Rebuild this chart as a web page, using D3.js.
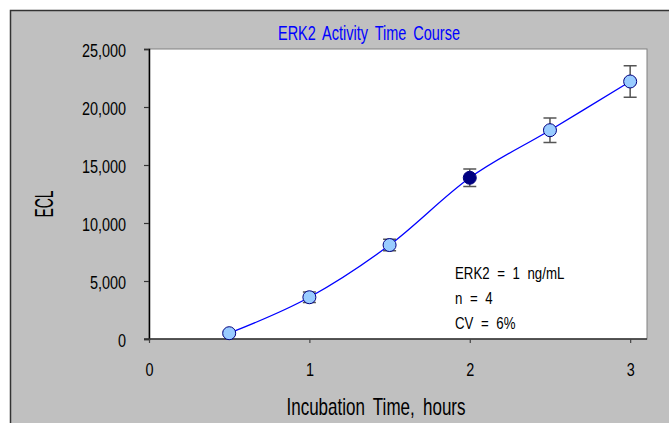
<!DOCTYPE html>
<html>
<head>
<meta charset="utf-8">
<script src="https://cdn.jsdelivr.net/npm/d3@7"></script>
<style>
  html, body { margin: 0; padding: 0; background: #ffffff; }
  svg { display: block; }
  text { font-family: "Liberation Sans", Arial, sans-serif; }
</style>
</head>
<body>
<svg id="chart" width="669" height="423"></svg>
<script>
// ---- data ----
const times = [0.5, 1, 1.5, 2, 2.5, 3];
const ecl = [500, 3600, 8100, 13900, 18000, 22200];
const errs = [150, 450, 500, 750, 1050, 1350];
const highlighted = [false, false, false, true, false, false];
const xTicks = [0, 1, 2, 3];
const yTicks = [0, 5000, 10000, 15000, 20000, 25000];
const titleText = "ERK2 Activity Time Course";
const xTitle = "Incubation Time, hours";
const yTitle = "ECL";
const notes = ["ERK2 = 1 ng/mL", "n = 4", "CV = 6%"];

// ---- layout ----
const W = 669, H = 423;
const plot = { left: 149, top: 49, right: 647, bottom: 339 };
const SX = 0.78; // horizontal condensing of text

const svg = d3.select("#chart");

// outer frame
svg.append("rect").attr("x", 10.5).attr("y", 10.5).attr("width", W).attr("height", H)
  .attr("fill", "#c0c0c0").attr("stroke", "#333").attr("stroke-width", 1.5);

const x = d3.scaleLinear().domain([0, 3.105]).range([plot.left, plot.right]);
const y = d3.scaleLinear().domain([0, 25000]).range([plot.bottom, plot.top]);

// plot area
svg.append("rect").attr("x", plot.left).attr("y", plot.top)
  .attr("width", plot.right - plot.left).attr("height", plot.bottom - plot.top)
  .attr("fill", "#ffffff").attr("stroke", "#808080").attr("stroke-width", 1);

// y axis
const yAxis = d3.axisLeft(y).tickValues(yTicks).tickSize(5).tickPadding(17)
  .tickFormat(d3.format(","));
const gy = svg.append("g").attr("transform", `translate(${plot.left},0)`).call(yAxis);
gy.select(".domain").attr("stroke", "#000").attr("stroke-width", 1.5);
gy.selectAll(".tick line").attr("stroke", "#333").attr("stroke-width", 1.2);
gy.selectAll(".tick text").attr("font-size", 18.5).attr("fill", "#000")
  .attr("x", -23 / SX).attr("dy", "0.38em")
  .attr("transform", `scale(${SX},1)`);

// x axis
const xAxis = d3.axisBottom(x).tickValues(xTicks).tickSize(4).tickPadding(20)
  .tickFormat(d3.format("d"));
const gx = svg.append("g").attr("transform", `translate(0,${plot.bottom})`).call(xAxis);
gx.select(".domain").attr("stroke", "#333").attr("stroke-width", 1.5)
  .attr("d", `M${plot.left - 5},0H${plot.right}`);
gx.selectAll(".tick line").attr("stroke", "#444").attr("stroke-width", 1.2);
gx.selectAll(".tick text").attr("font-size", 18.5).attr("fill", "#000")
  .attr("transform", `scale(${SX},1)`);

// title
svg.append("text").attr("x", 369).attr("y", 40).attr("text-anchor", "middle")
  .attr("font-size", 19.5).attr("fill", "#0000ff").attr("word-spacing", 4)
  .attr("textLength", 182).attr("lengthAdjust", "spacingAndGlyphs")
  .text(titleText);

// axis titles
svg.append("text").attr("x", 376).attr("y", 415).attr("text-anchor", "middle")
  .attr("font-size", 24).attr("fill", "#000").attr("word-spacing", 5)
  .attr("textLength", 179).attr("lengthAdjust", "spacingAndGlyphs")
  .text(xTitle);
svg.append("text").attr("transform", "translate(53,204) rotate(-90)")
  .attr("text-anchor", "middle").attr("font-size", 25).attr("fill", "#000")
  .attr("textLength", 27).attr("lengthAdjust", "spacingAndGlyphs")
  .text(yTitle);

// notes
svg.append("g").selectAll("text").data(notes).join("text")
  .attr("transform", (d, i) => `translate(455,${279 + i * 25}) scale(${SX},1)`)
  .attr("font-size", 17).attr("fill", "#000").attr("word-spacing", 5)
  .text(d => d);

// data
const pts = times.map((t, i) => ({ t, v: ecl[i], e: errs[i], hi: highlighted[i] }));

// line
svg.append("path").datum(pts)
  .attr("fill", "none").attr("stroke", "#0000ff").attr("stroke-width", 1.3)
  .attr("d", d3.line().x(d => x(d.t)).y(d => y(d.v)).curve(d3.curveCardinal));

// error bars
const eb = svg.append("g").attr("stroke", "#555").attr("stroke-width", 1.5).attr("fill", "none");
pts.forEach(d => {
  const cx = x(d.t), y1 = y(d.v + d.e), y2 = y(d.v - d.e), cw = 6.5;
  eb.append("path").attr("d",
    `M${cx},${y1}V${y2}M${cx - cw},${y1}H${cx + cw}M${cx - cw},${y2}H${cx + cw}`);
});

// markers
svg.append("g").selectAll("circle").data(pts).join("circle")
  .attr("cx", d => x(d.t)).attr("cy", d => y(d.v)).attr("r", 6.5)
  .attr("fill", d => d.hi ? "#000080" : "#99ccff")
  .attr("stroke", "#000080").attr("stroke-width", 1);
</script>
</body>
</html>
